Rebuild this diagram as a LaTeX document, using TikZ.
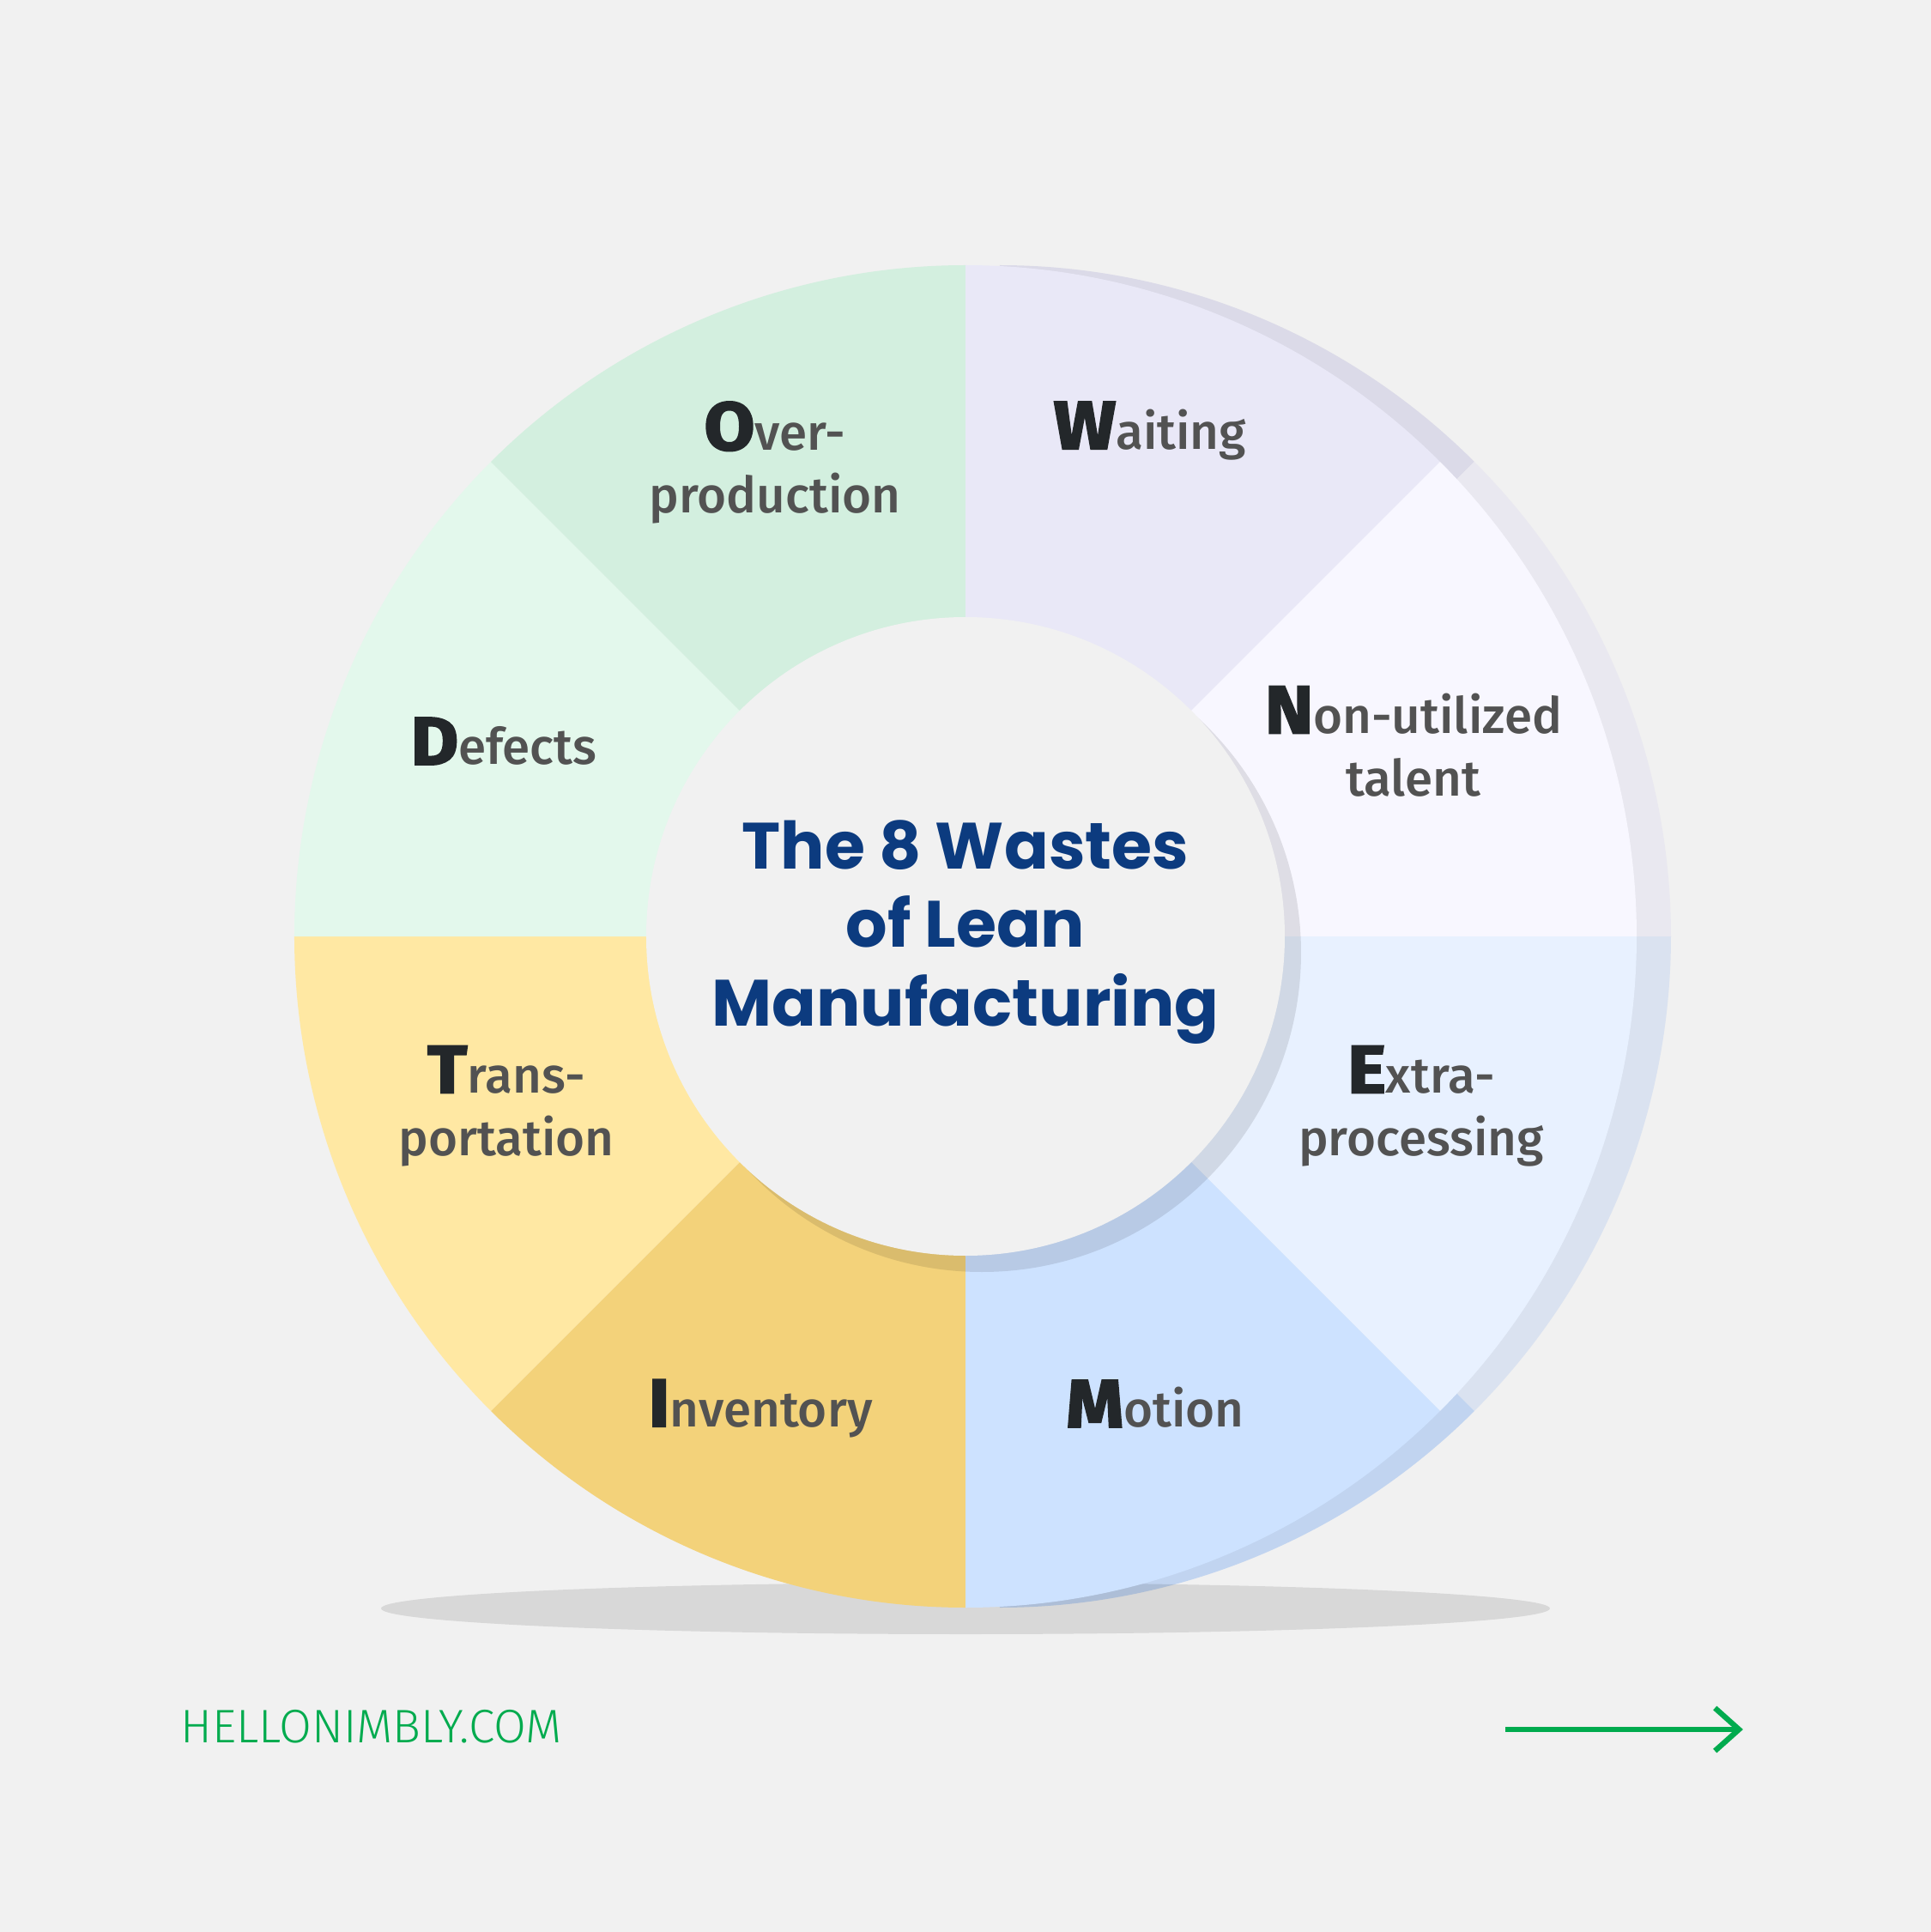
\documentclass[tikz,border=0pt]{standalone}
\usepackage{fontspec}
\usetikzlibrary{calc, arrows.meta}

\newfontfamily\titlefont{Poppins}[BoldFont={Poppins Bold}]
\newfontfamily\wastefont{Fira Sans Medium}
\newfontfamily\initfont{Fira Sans}[UprightFont={Fira Sans Bold}, FakeBold=2.5, FakeStretch=1.08]
\newfontfamily\footfont{Fira Sans Light}

\definecolor{bgc}{HTML}{F1F1F1}
\definecolor{overc}{HTML}{D3EFDF}
\definecolor{defectc}{HTML}{E3F8EC}
\definecolor{transc}{HTML}{FFE8A3}
\definecolor{invc}{HTML}{F3D27A}
\definecolor{motionc}{HTML}{CDE2FF}
\definecolor{extrac}{HTML}{E8F1FF}
\definecolor{nonc}{HTML}{F8F7FF}
\definecolor{waitc}{HTML}{E9E8F7}
\definecolor{titlec}{HTML}{0C3B7F}
\definecolor{greenc}{HTML}{00AB4E}
\definecolor{initc}{HTML}{23272A}
\definecolor{wastec}{HTML}{525252}

\newcommand{\wasteinit}[1]{{\initfont\fontsize{22.5}{26}\selectfont\color{initc}#1}}

\tikzset{
    waste/.style = {align = center, inner sep = 0pt, text = wastec,
        font = \wastefont\fontsize{16.6}{15}\selectfont},
    wastetitle/.style = {align = center, inner sep = 0pt, text = titlec,
        font = \titlefont\bfseries\fontsize{21.7}{26}\selectfont},
}

\begin{document}
\begin{tikzpicture}
            \coordinate (origin) at (0, 0);
            \coordinate (arrow_a) at (6.29, -9.24);
            \coordinate (arrow_b) at (9.06, -9.24);

            \fill[bgc](-11.25, -11.60) rectangle (11.25, 10.91);

            \foreach \a/\b/\col in {45/90/waitc, 0/45/nonc, -45/0/extrac, -90/-45/motionc} {
                \fill[\col!94!black]($(origin) + (0.4, 0)$) -- ($(origin) + (0.4, 0) + (\a:7.82)$) arc (\a:\b:7.82) -- cycle;
            }

            \fill[black, fill opacity = 0.1]($(origin) + (0, -7.83)$) ellipse (6.81 and 0.30);

            \foreach \a/\b/\col in {45/90/waitc, 0/45/nonc, -45/0/extrac, -90/-45/motionc, -135/-90/invc, -180/-135/transc, 135/180/defectc, 90/135/overc} {
                \fill[\col](origin) -- (\a:7.82) arc (\a:\b:7.82) -- cycle;
            }

            \fill[black, fill opacity = 0.1]($(origin) + (0.19, -0.19)$) circle (3.72);
            \fill[bgc](origin) circle (3.72);

            \node[waste] (waiting) at (2.15, 5.89) {\wasteinit{W}aiting};
            \node[waste] (nonutil) at (5.22, 2.27) {\wasteinit{N}on-utilized\\[5.8pt]talent};
            \node[waste] (extra) at (5.31, -1.98) {\wasteinit{E}xtra-\\[5.8pt]processing};
            \node[waste] (motion) at (2.21, -5.45) {\wasteinit{M}otion};
            \node[waste] (inventory) at (-2.39, -5.50) {\wasteinit{I}nventory};
            \node[waste] (transport) at (-5.35, -1.98) {\wasteinit{T}rans-\\[5.8pt]portation};
            \node[waste] (defects) at (-5.38, 2.27) {\wasteinit{D}efects};
            \node[waste] (overprod) at (-2.22, 5.52) {\wasteinit{O}ver-\\[5.8pt]production};

            \node[wastetitle] (title) at ($(origin) + (0, 0.05)$) {The 8 Wastes\\of Lean\\Manufacturing};

            \node[anchor = base west, inner sep = 0pt, text = greenc, font = \footfont\fontsize{15.6}{18}\selectfont] (site) at (-9.15, -9.39) {HELLONIMBLY.COM};
            \draw[greenc, line width = 1.8pt, -{Straight Barb[length = 0.28cm, width = 0.50cm]}](arrow_a) -- (arrow_b);

        \end{tikzpicture}
\end{document}
